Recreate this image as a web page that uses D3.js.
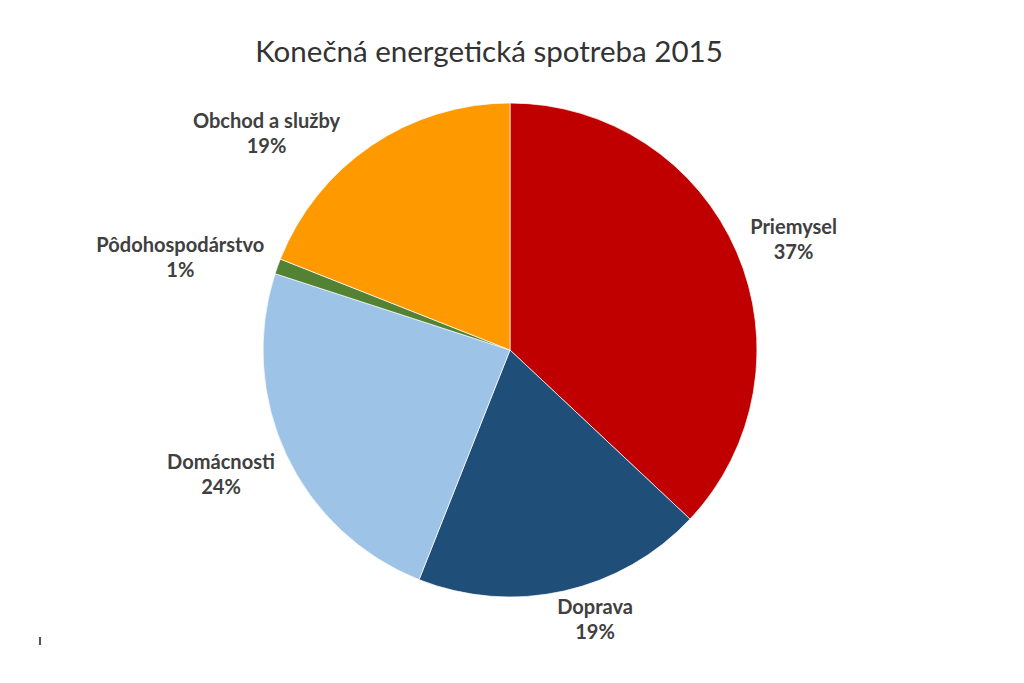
<html>
<head>
<meta charset="utf-8">
<script src="https://d3js.org/d3.v7.min.js"></script>
<style>
  body { margin: 0; background: #fff; }
  .lbl { font-family: Lato, "Open Sans", sans-serif; font-weight: bold; fill: #404040; }
  .title { font-family: Lato, "Open Sans", sans-serif; fill: #333; }
</style>
</head>
<body>
<div id="chart"></div>
<script>
// data
var sectors = ["Priemysel", "Doprava", "Domácnosti", "Pôdohospodárstvo", "Obchod a služby"];
var shares = [37, 19, 24, 1, 19];
var colors = ["#C00000", "#1F4E79", "#9DC3E6", "#548235", "#FF9900"];
var title = "Konečná energetická spotreba 2015";

// label placement tweaks, like Excel's best fit (degrees / px)
var labelNudge = [2, -5, 2, -4, -14];
var labelPad = [8, -1, 8, 8, 8];

var width = 1024, height = 683;
var cx = 510, cy = 350, r = 247;

var svg = d3.select("#chart").append("svg")
    .attr("width", width)
    .attr("height", height);

// title, fitted to the width it has in the picture
var t = svg.append("text")
    .attr("class", "title")
    .attr("x", 489)
    .attr("y", 62)
    .style("text-anchor", "middle")
    .style("font-size", "28px")
    .text(title);
var tw = t.node().getComputedTextLength();
t.style("font-size", (28 * 468 / tw) + "px");

var data = sectors.map(function(s, i) { return {name: s, value: shares[i], color: colors[i], i: i}; });

var pie = d3.pie().sort(null).value(function(d) { return d.value; });
var arc = d3.arc().innerRadius(0).outerRadius(r);

var g = svg.append("g").attr("transform", "translate(" + cx + "," + cy + ")");

var arcs = pie(data);

g.selectAll("path")
  .data(arcs)
  .enter()
  .append("path")
    .attr("d", arc)
    .style("fill", function(d) { return d.data.color; })
    .style("stroke", "#fff")
    .style("stroke-width", 0.7);

// labels
var fs = 18;
var labels = g.selectAll("g.label")
  .data(arcs)
  .enter()
  .append("g")
    .attr("class", "label");

labels.append("text")
    .attr("class", "lbl")
    .style("font-size", fs + "px")
    .style("text-anchor", "middle")
    .attr("y", -4)
    .text(function(d) { return d.data.name; });
labels.append("text")
    .attr("class", "lbl")
    .style("font-size", fs + "px")
    .style("text-anchor", "middle")
    .attr("y", 21)
    .text(function(d) { return d3.format(".0f")(d.data.value) + "%"; });

// match width of the widest label (~168px)
var wLong = labels.filter(function(d) { return d.data.i === 3; }).select("text").node().getComputedTextLength();
fs = fs * 168 / wLong;
labels.selectAll("text").style("font-size", fs + "px");

labels.attr("transform", function(d) {
  var a = (d.startAngle + d.endAngle) / 2 + labelNudge[d.data.i] * Math.PI / 180;
  var bb = this.getBBox();
  var ux = Math.sin(a), uy = -Math.cos(a);
  var ext = bb.width / 2 * Math.abs(ux) + 25 * Math.abs(uy);
  var dist = r + labelPad[d.data.i] + ext;
  var x = ux * dist, y = uy * dist - (bb.y + bb.height / 2);
  return "translate(" + x + "," + y + ")";
});

// small stray mark at bottom-left, as in the source image
svg.append("rect")
    .attr("x", 39).attr("y", 637)
    .attr("width", 2).attr("height", 8)
    .style("fill", "#555");
</script>
</body>
</html>
